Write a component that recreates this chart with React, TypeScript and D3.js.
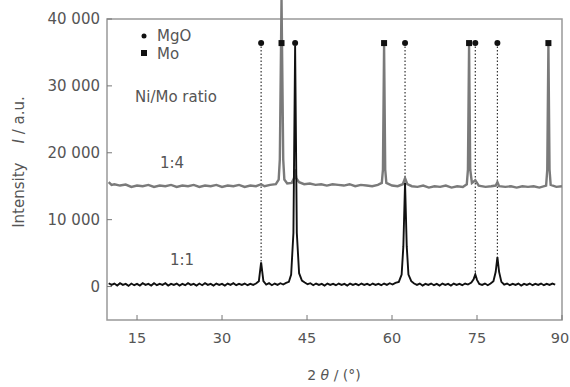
import React from 'react';
import * as d3 from 'd3';

// XRD patterns: [2θ (°), intensity (a.u.)]
const ratio14: [number, number][] = [
  [10, 15600], [10.5, 15200], [11, 15300], [12, 15100], [13, 15250], [14, 14900], [15, 15100],
  [16, 15000], [17, 15200], [18, 14900], [19, 15100], [20, 15000], [21, 15200], [22, 14900],
  [23, 15100], [24, 15000], [25, 15200], [26, 14900], [27, 15100], [28, 15000], [29, 15200],
  [30, 14900], [31, 15100], [32, 15000], [33, 15200], [34, 14900], [35, 15100], [36, 15000],
  [36.9, 15300], [37.5, 15000], [38.5, 15200], [39.5, 15300], [40, 16000], [40.2, 19000],
  [40.5, 43000], [40.8, 19000], [41, 16000], [41.5, 15400], [42.3, 15500], [42.7, 16200],
  [42.9, 17500], [43.1, 16200], [43.6, 15600], [44.5, 15300], [45.5, 15400], [46.5, 15200],
  [47.5, 15300], [48.5, 15100], [49.5, 15300], [50.5, 15200], [51.5, 15100], [52.5, 15300],
  [53.5, 15000], [54.5, 15200], [55.5, 15100], [56.5, 15000], [57.5, 15200], [58.2, 15500],
  [58.4, 17500], [58.6, 36000], [58.8, 17500], [59, 15500], [60, 15100], [61, 15000],
  [61.9, 15300], [62.3, 16200], [62.7, 15300], [63.5, 15000], [64.5, 14900], [65.5, 15100],
  [66.5, 14800], [67.5, 15000], [68.5, 14900], [69.5, 15100], [70.5, 14800], [71.5, 15000],
  [72.5, 14900], [73.2, 15300], [73.4, 17500], [73.6, 36000], [73.8, 17500], [74.1, 15500],
  [74.7, 15900], [75.3, 15100], [76.5, 14900], [77.5, 15000], [78.3, 15100], [78.6, 15600],
  [78.9, 15000], [80, 14900], [81, 15000], [82, 14800], [83, 15000], [84, 14900], [85, 15000],
  [86, 14800], [87.2, 15100], [87.4, 17500], [87.6, 36000], [87.8, 17500], [88, 15200],
  [89, 14900], [90, 15000],
];

const ratio11: [number, number][] = [
  [10, 500], [10.5, 250], [11, 450], [11.5, 150], [12, 500], [12.5, 250], [13, 400], [13.5, 100],
  [14, 450], [14.5, 200], [15, 400], [15.5, 150], [16, 500], [16.5, 250], [17, 400], [17.5, 150],
  [18, 500], [18.5, 200], [19, 400], [19.5, 250], [20, 500], [20.5, 150], [21, 400], [21.5, 250],
  [22, 450], [22.5, 150], [23, 400], [23.5, 200], [24, 500], [24.5, 250], [25, 400], [25.5, 150],
  [26, 450], [26.5, 200], [27, 500], [27.5, 250], [28, 400], [28.5, 150], [29, 450], [29.5, 250],
  [30, 400], [30.5, 150], [31, 450], [31.5, 250], [32, 500], [32.5, 200], [33, 400], [33.5, 250],
  [34, 450], [34.5, 200], [35, 400], [35.5, 250], [36, 450], [36.5, 800], [36.9, 3600],
  [37.3, 800], [37.8, 300], [38.3, 500], [38.8, 200], [39.3, 450], [39.8, 250], [40.3, 500],
  [40.8, 300], [41.3, 550], [41.8, 700], [42.2, 1800], [42.6, 8000], [42.9, 36000], [43.2, 8000],
  [43.6, 2000], [44.1, 900], [44.6, 600], [45.1, 350], [45.6, 500], [46.1, 200], [46.6, 450],
  [47.1, 250], [47.6, 400], [48.1, 150], [48.6, 450], [49.1, 250], [49.6, 400], [50.1, 200],
  [50.6, 450], [51.1, 250], [51.6, 400], [52.1, 150], [52.6, 450], [53.1, 250], [53.6, 400],
  [54.1, 200], [54.6, 450], [55.1, 250], [55.6, 400], [56.1, 200], [56.6, 450], [57.1, 250],
  [57.6, 400], [58.1, 200], [58.6, 450], [59.1, 250], [59.6, 500], [60.1, 300], [60.6, 550],
  [61.2, 700], [61.7, 1800], [62.0, 6000], [62.3, 15500], [62.6, 6000], [62.9, 1800],
  [63.4, 800], [63.9, 450], [64.4, 250], [64.9, 450], [65.4, 150], [65.9, 400], [66.4, 250],
  [66.9, 450], [67.4, 200], [67.9, 400], [68.4, 150], [68.9, 450], [69.4, 250], [69.9, 400],
  [70.4, 150], [70.9, 450], [71.4, 250], [71.9, 400], [72.4, 200], [72.9, 450], [73.4, 300],
  [74.0, 600], [74.4, 1100], [74.7, 1800], [75.0, 1000], [75.4, 400], [75.9, 250], [76.4, 450],
  [76.9, 200], [77.4, 450], [77.9, 800], [78.3, 2200], [78.6, 4400], [78.9, 2200], [79.3, 700],
  [79.8, 300], [80.3, 450], [80.8, 200], [81.3, 400], [81.8, 250], [82.3, 450], [82.8, 150],
  [83.3, 400], [83.8, 250], [84.3, 450], [84.8, 200], [85.3, 400], [85.8, 250], [86.3, 450],
  [86.8, 200], [87.3, 400], [87.8, 250], [88.3, 450], [88.8, 300],
];

const ratios = ['1:4', '1:1'];
const mgoPeaks = [36.9, 42.9, 62.3, 74.7, 78.6];
const moPeaks = [40.5, 58.6, 73.6, 87.6];
const markerLevel = 36400;
const dottedPeaks = [36.9, 62.3, 74.7, 78.6];
const dottedEnds = [3600, 15500, 1800, 4400];

const xTicks = [15, 30, 45, 60, 75, 90];
const yTicks = [0, 10000, 20000, 30000, 40000];
const yTickLabels = ['0', '10 000', '20 000', '30 000', '40 000'];

const W = 570;
const H = 387;
const left = 107, right = 562, top = 19, bottom = 320;
const font = 'DejaVu Sans, sans-serif';
const textColor = '#555';

export default function App() {
  const x = d3.scaleLinear().domain([9.7, 90]).range([left, right]);
  const y = d3.scaleLinear().domain([-5000, 40000]).range([bottom, top]);
  const line = d3.line<[number, number]>().x(d => x(d[0])).y(d => y(d[1]));

  return (
    <svg width={W} height={H} style={{ position: 'absolute', left: 0, top: 0, background: '#fff' }}
      fontFamily={font}>
      {/* frame */}
      <rect x={left} y={top} width={right - left} height={bottom - top} fill="none" stroke="#999" strokeWidth={1.5} />
      {/* ticks */}
      {yTicks.map((t, i) => (
        <g key={'y' + t}>
          <line x1={left} x2={left + 5} y1={y(t)} y2={y(t)} stroke="#777" />
          <text x={100} y={y(t)} dy="0.35em" textAnchor="end" fontSize={15} fill={textColor}>{yTickLabels[i]}</text>
        </g>
      ))}
      {xTicks.map(t => (
        <g key={'x' + t}>
          <line x1={x(t)} x2={x(t)} y1={bottom} y2={bottom - 5} stroke="#777" />
          <text x={t === 90 ? x(t) - 2 : x(t)} y={343} textAnchor="middle" fontSize={14.5} fill={textColor}>{t}</text>
        </g>
      ))}
      {/* dotted drop lines */}
      {dottedPeaks.map((p, i) => (
        <line key={'d' + p} x1={x(p)} x2={x(p)} y1={y(markerLevel)} y2={y(dottedEnds[i])}
          stroke="#333" strokeWidth={1.2} strokeDasharray="1.5,2" />
      ))}
      {/* patterns */}
      <path d={line(ratio14) || ''} fill="none" stroke="#7a7a7a" strokeWidth={2.4} />
      <path d={line(ratio11) || ''} fill="none" stroke="#111" strokeWidth={1.9} />
      {/* markers */}
      {mgoPeaks.map(p => (
        <circle key={'c' + p} cx={x(p)} cy={y(markerLevel)} r={3} fill="#111" />
      ))}
      {moPeaks.map(p => (
        <rect key={'s' + p} x={x(p) - 3} y={y(markerLevel) - 3} width={6} height={6} fill="#111" />
      ))}
      {/* legend */}
      <circle cx={144} cy={36} r={2.5} fill="#111" />
      <text x={157} y={41} fontSize={15} fill={textColor}>MgO</text>
      <rect x={141} y={50} width={6} height={6} fill="#111" />
      <text x={157} y={59} fontSize={15} fill={textColor}>Mo</text>
      <text x={135} y={102} fontSize={15} fill={textColor}>Ni/Mo ratio</text>
      <text x={160} y={168} fontSize={15} fill={textColor}>{ratios[0]}</text>
      <text x={170} y={265} fontSize={15} fill={textColor}>{ratios[1]}</text>
      {/* axis titles */}
      <text transform="translate(24,162) rotate(-90)" textAnchor="middle" fontSize={15} fill={textColor}
        style={{ whiteSpace: 'pre' }}>
        Intensity{'    '}<tspan fontStyle="italic">I</tspan> / a.u.
      </text>
      <text x={334} y={380} textAnchor="middle" fontSize={14} fill={textColor}>
        2 <tspan fontStyle="italic">θ</tspan> / (°)
      </text>
    </svg>
  );
}
